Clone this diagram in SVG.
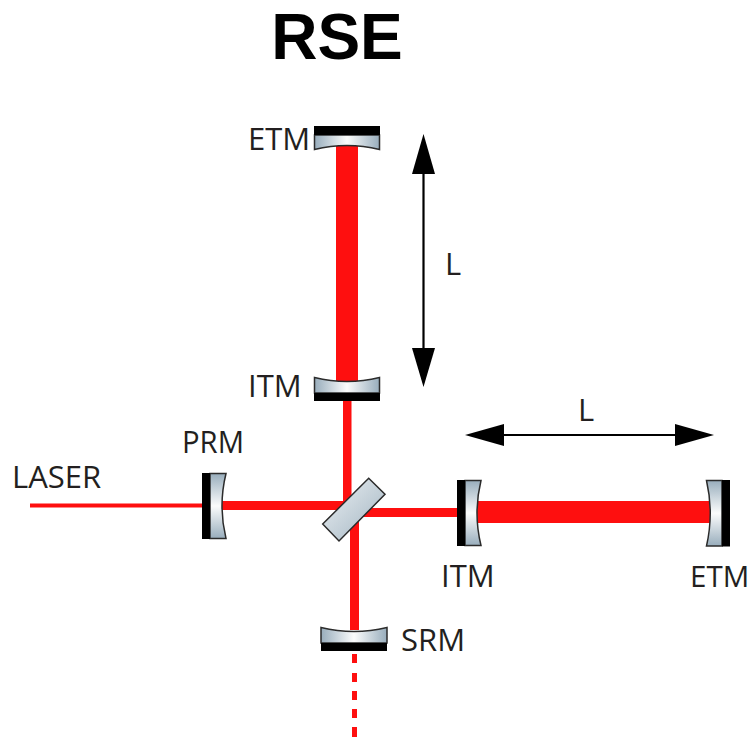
<svg xmlns="http://www.w3.org/2000/svg" width="748" height="740" viewBox="0 0 748 740">
<style>
.lbl{font-family:"Open Sans","Liberation Sans",sans-serif;font-size:31px;fill:#231f20}
.beam{fill:#fe0f0f}
.black{fill:#000}
.glass{stroke:#2b2b2b;stroke-width:1.500}
.v{fill:url(#gv)}
.h{fill:url(#gh)}
.arrow{stroke:#000;stroke-width:2.200;fill:none}
</style>
<defs>
<linearGradient id="gh" x1="0" y1="0" x2="1" y2="0"><stop offset="0" stop-color="#98adbc"/><stop offset="0.5" stop-color="#fbfcfc"/><stop offset="1" stop-color="#98adbc"/></linearGradient>
<linearGradient id="gv" x1="0" y1="0" x2="0" y2="1"><stop offset="0" stop-color="#98adbc"/><stop offset="0.5" stop-color="#fbfcfc"/><stop offset="1" stop-color="#98adbc"/></linearGradient>
<linearGradient id="gb" x1="0" y1="0" x2="1" y2="1"><stop offset="0" stop-color="#eef2f4"/><stop offset="1" stop-color="#a0b3c1"/></linearGradient>
</defs>
<rect width="748" height="740" fill="#fff"/>
<text x="337" y="59" text-anchor="middle" font-family="'Liberation Sans',Arial,sans-serif" font-weight="700" font-size="64" fill="#000">RSE</text>
<g id="connectors">
<rect class="beam" x="30" y="503.500" width="174" height="4"/>
<rect class="beam" x="222" y="501" width="122" height="9"/>
<rect class="beam" x="336" y="145" width="22" height="238"/>
<rect class="beam" x="343" y="400" width="8.500" height="108"/>
<rect class="beam" x="350" y="518" width="9" height="112"/>
<rect class="beam" x="362" y="508" width="96" height="9"/>
<rect class="beam" x="476" y="501" width="234" height="22"/>
<g class="beam">
<rect x="352" y="654" width="5" height="9"/>
<rect x="352" y="673" width="5" height="9"/>
<rect x="352" y="691" width="5" height="9"/>
<rect x="352" y="709" width="5" height="9"/>
<rect x="352" y="727" width="5" height="10"/>
</g>
<g id="arrow-v">
<path class="arrow" d="M423.500 170V350"/>
<path d="M423.500 134L435 174H412Z"/>
<path d="M423.500 387L412 348H435Z"/>
</g>
<g id="arrow-h">
<path class="arrow" d="M500 435H680"/>
<path d="M465 435L504 424V446Z"/>
<path d="M714 435L675 424V446Z"/>
</g>
</g>
<g id="etm-top">
<path class="glass" style="fill:url(#gh)" d="M314.500 135H379.500V149.500Q347 141.500 314.500 149.500Z"/>
<rect class="black" x="314" y="126" width="66" height="9"/>
<text class="lbl" x="248" y="150">ETM</text>
</g>
<g id="itm-top">
<path class="glass" style="fill:url(#gh)" d="M314.500 393H379.500V377.500Q347 385.500 314.500 377.500Z"/>
<rect class="black" x="314" y="393" width="66" height="8"/>
<text class="lbl" x="248" y="397">ITM</text>
</g>
<g id="prm">
<path class="glass v" d="M210 473.500H226Q218 506 226 538.500H210Z"/>
<rect class="black" x="202" y="473" width="8" height="66"/>
<text class="lbl" x="182" y="453" textLength="62" lengthAdjust="spacingAndGlyphs">PRM</text>
</g>
<g id="laser"><text class="lbl" x="12" y="488">LASER</text></g>
<g id="bs">
<path d="M368.700 478.300L385 494.300L339 541L322.700 524Z" fill="url(#gb)" stroke="#2b2b2b" stroke-width="1.500"/>
</g>
<g id="itm-right">
<path class="glass v" d="M465 480.500H481Q473 513 481 545.500H465Z"/>
<rect class="black" x="457" y="480" width="8" height="66"/>
<text class="lbl" x="441" y="587">ITM</text>
</g>
<g id="etm-right">
<path class="glass v" d="M722 480.500H706.500Q714 513 706.500 546H722Z"/>
<rect class="black" x="722" y="480" width="8" height="66.500"/>
<text class="lbl" x="690" y="587" style="font-size:29.500px">ETM</text>
</g>
<g id="srm">
<path class="glass" style="fill:url(#gh)" d="M321 643H387V627.500Q354 635.500 321 627.500Z"/>
<rect class="black" x="321" y="643" width="66" height="8"/>
<text class="lbl" x="401" y="651">SRM</text>
</g>
<text class="lbl" x="445" y="275">L</text>
<text class="lbl" x="578" y="421">L</text>
</svg>
